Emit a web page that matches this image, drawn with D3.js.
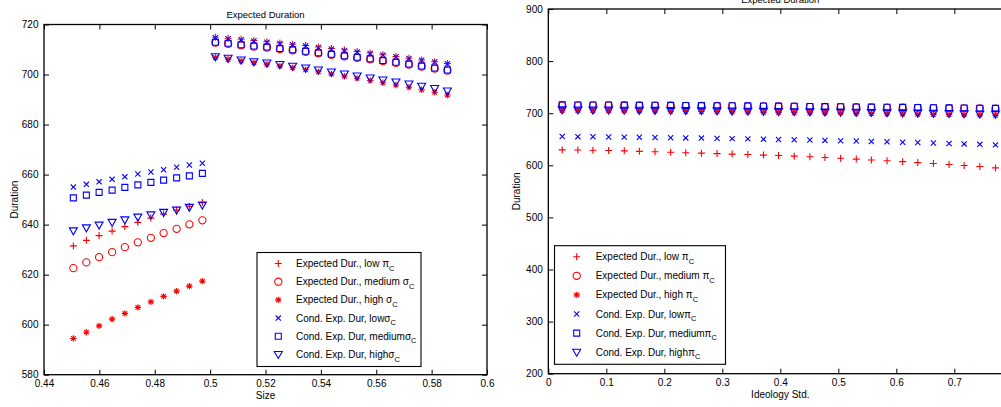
<!DOCTYPE html>
<html>
<head>
<meta charset="utf-8">
<script src="https://cdn.jsdelivr.net/npm/d3@7"></script>
<style>
  body { margin: 0; background: #fff; }
  svg { display: block; font-family: "Liberation Sans", Arial, sans-serif; }
</style>
</head>
<body>
<svg id="chart" width="1001" height="407"></svg>
<script>
// ---- data: left panel (x = Size) ----
var sizeX = [0.4506, 0.4553, 0.4599, 0.4646, 0.4692, 0.4739, 0.4786, 0.4832, 0.4879, 0.4925,
  0.4972, 0.5019, 0.5065, 0.5112, 0.5158, 0.5205, 0.5252, 0.5298, 0.5345, 0.5391,
  0.5438, 0.5485, 0.5531, 0.5578, 0.5624, 0.5671, 0.5718, 0.5764, 0.5811, 0.5857]

var sizeExpLow = [631.5, 633.7, 635.6, 637.4, 639.2, 640.9, 642.6, 644.2, 645.8, 647.3, 648.8,
  714.9, 714.5, 714.1, 713.6, 713.1, 712.6, 712.1, 711.6, 711.0, 710.4, 709.8, 709.2, 708.6, 707.9, 707.2, 706.5, 705.8, 705.1, 704.4]
var sizeExpMed = [622.6, 624.9, 627.0, 629.0, 631.0, 632.9, 634.7, 636.6, 638.3, 640.1, 641.7,
  712.8, 712.3, 711.7, 711.2, 710.8, 710.2, 709.7, 709.1, 708.5, 707.9, 707.3, 706.7, 706.1, 705.4, 704.7, 704.0, 703.2, 702.4, 701.6]
var sizeExpHigh = [594.5, 597.0, 599.5, 602.2, 604.5, 606.9, 609.1, 611.3, 613.4, 615.4, 617.4,
  706.8, 706.1, 705.4, 704.7, 704.1, 703.4, 702.7, 701.9, 701.1, 700.2, 699.3, 698.5, 697.6, 696.7, 695.8, 694.9, 693.9, 692.9, 691.8]
var sizeCondLow = [655.0, 656.1, 657.1, 658.1, 659.1, 660.2, 661.0, 661.9, 662.9, 663.8, 664.5,
  714.7, 714.3, 713.9, 713.4, 712.9, 712.4, 711.9, 711.4, 710.8, 710.2, 709.6, 709.0, 708.4, 707.8, 707.1, 706.4, 705.7, 705.0, 704.3]
var sizeCondMed = [650.7, 651.8, 652.9, 653.8, 654.9, 655.9, 656.9, 657.8, 658.7, 659.5, 660.5,
  712.9, 712.5, 711.9, 711.4, 711.0, 710.4, 709.9, 709.3, 708.7, 708.1, 707.5, 706.9, 706.3, 705.6, 704.9, 704.2, 703.4, 702.6, 701.8]
var sizeCondHigh = [637.5, 638.7, 639.8, 640.9, 641.9, 643.0, 643.9, 644.9, 645.8, 646.9, 647.8,
  707.1, 706.5, 705.8, 705.1, 704.6, 704.0, 703.3, 702.6, 701.8, 701.0, 700.2, 699.4, 698.6, 697.8, 697.0, 696.2, 695.3, 694.4, 693.4]

// ---- data: right panel (x = Ideology Std.) ----
var stdX = [0.024, 0.051, 0.077, 0.104, 0.131, 0.157, 0.184, 0.211, 0.237, 0.264,
  0.291, 0.317, 0.344, 0.371, 0.397, 0.424, 0.451, 0.477, 0.504, 0.531,
  0.557, 0.584, 0.611, 0.637, 0.664, 0.691, 0.717, 0.744, 0.771]

var stdExpLow = [629.6, 629.4, 628.9, 628.3, 627.7, 626.8, 626.0, 625.1, 624.2, 623.3,
  622.5, 621.5, 620.6, 619.6, 618.7, 617.6, 616.3, 614.9, 613.4, 611.9,
  610.3, 608.7, 607.0, 605.2, 603.4, 601.5, 599.6, 597.6, 595.0]
var stdExpMed = [715.3, 715.2, 715.1, 715.0, 714.9, 714.8, 714.6, 714.4, 714.2, 714.0,
  713.8, 713.6, 713.4, 713.2, 712.9, 712.6, 712.3, 712.0, 711.7, 711.4,
  711.1, 710.8, 710.5, 710.2, 709.9, 709.6, 709.3, 709.0, 708.7]
var stdExpHigh = [705.0, 704.9, 704.8, 704.7, 704.5, 704.3, 704.1, 703.8, 703.6, 703.3,
  703.0, 702.6, 702.3, 701.9, 701.6, 701.2, 700.8, 700.5, 700.1, 699.7,
  699.3, 698.9, 698.5, 698.0, 697.6, 697.2, 696.8, 696.4, 696.0]
var stdCondLow = [655.2, 655.0, 654.7, 654.4, 654.1, 653.8, 653.4, 653.0, 652.6, 652.2,
  651.7, 651.2, 650.7, 650.2, 649.6, 649.0, 648.4, 647.8, 647.2, 646.5,
  645.8, 645.1, 644.4, 643.6, 642.8, 642.0, 641.1, 640.2, 639.2]
var stdCondMed = [715.9, 715.8, 715.7, 715.6, 715.5, 715.4, 715.2, 715.0, 714.8, 714.6,
  714.4, 714.2, 714.0, 713.8, 713.5, 713.2, 712.9, 712.6, 712.3, 712.0,
  711.7, 711.4, 711.1, 710.8, 710.5, 710.2, 709.9, 709.6, 709.3]
var stdCondHigh = [706.3, 706.2, 706.1, 706.0, 705.8, 705.6, 705.4, 705.2, 705.0, 704.7,
  704.4, 704.1, 703.8, 703.5, 703.2, 702.9, 702.6, 702.3, 702.0, 701.7,
  701.4, 701.0, 700.6, 700.2, 699.8, 699.4, 699.0, 698.6, 698.2]

// ---- ticks and labels ----
var sizeTicks = [0.44, 0.46, 0.48, 0.5, 0.52, 0.54, 0.56, 0.58, 0.6]
var sizeDurTicks = [580, 600, 620, 640, 660, 680, 700, 720]
var stdTicks = [0, 0.1, 0.2, 0.3, 0.4, 0.5, 0.6, 0.7]
var stdDurTicks = [200, 300, 400, 500, 600, 700, 800, 900]

var markerTypes = ['plus', 'circle', 'star', 'cross', 'square', 'triangle']
var markerColors = ['#ff0000', '#ff0000', '#ff0000', '#0000ff', '#0000ff', '#0000ff']

var legendSize = ['Expected Dur., low \u03c0', 'Expected Dur., medium \u03c3', 'Expected Dur., high \u03c3',
  'Cond. Exp. Dur, low\u03c3', 'Cond. Exp. Dur, medium\u03c3', 'Cond. Exp. Dur, high\u03c3']
var legendStd = ['Expected Dur., low \u03c0', 'Expected Dur., medium \u03c0', 'Expected Dur., high \u03c0',
  'Cond. Exp. Dur, low\u03c0', 'Cond. Exp. Dur, medium\u03c0', 'Cond. Exp. Dur, high\u03c0']

var svg = d3.select('#chart')

// matlab-ish marker shapes
function markerPath(type) {
  if (type === 'plus') return 'M-3.5,0H3.5M0,-3.5V3.5'
  if (type === 'cross') return 'M-2.6,-2.6L2.6,2.6M-2.6,2.6L2.6,-2.6'
  if (type === 'star') return 'M-3.2,0H3.2M0,-3.2V3.2M-2.3,-2.3L2.3,2.3M-2.3,2.3L2.3,-2.3'
  if (type === 'square') return 'M-3,-3H3V3H-3Z'
  if (type === 'triangle') return 'M-4,-3H4L0,4Z'
  return 'M3.6,0A3.6,3.6 0 1,1 -3.6,0A3.6,3.6 0 1,1 3.6,0Z'
}

function drawMarker(g, type, color, x, y) {
  g.append('path')
    .attr('transform', 'translate(' + x + ',' + y + ')')
    .attr('d', markerPath(type))
    .attr('fill', 'none')
    .attr('stroke', color)
    .attr('stroke-width', 1.1)
}

function drawPanel(p) {
  var xScale = d3.scaleLinear().domain(p.xDomain).range([p.left, p.right])
  var yScale = d3.scaleLinear().domain(p.yDomain).range([p.bottom, p.top])
  var g = svg.append('g')

  // points, in plotting order
  p.series.forEach(function(s, i) {
    var sg = g.append('g')
    s.forEach(function(v, j) {
      drawMarker(sg, markerTypes[i], markerColors[i], xScale(p.xs[j]), yScale(v))
    })
  })

  // axes with inward ticks
  var fmt = function(d) { return String(+d.toFixed(2)) }
  g.append('g')
    .attr('transform', 'translate(0,' + p.bottom + ')')
    .call(d3.axisBottom(xScale).tickValues(p.xTicks).tickSize(-5).tickSizeOuter(0).tickPadding(5).tickFormat(fmt))
  g.append('g')
    .attr('transform', 'translate(0,' + p.top + ')')
    .call(d3.axisTop(xScale).tickValues(p.xTicks).tickSize(-5).tickSizeOuter(0).tickFormat(''))
  g.append('g')
    .attr('transform', 'translate(' + p.left + ',0)')
    .call(d3.axisLeft(yScale).tickValues(p.yTicks).tickSize(-5).tickSizeOuter(0).tickPadding(5.5).tickFormat(fmt))
  g.append('g')
    .attr('transform', 'translate(' + p.right + ',0)')
    .call(d3.axisRight(yScale).tickValues(p.yTicks).tickSize(-5).tickSizeOuter(0).tickFormat(''))

  g.selectAll('.domain').remove()
  g.selectAll('.tick line').attr('stroke', '#000').attr('stroke-width', 1)
  g.selectAll('.tick text').attr('font-size', 10).attr('fill', '#000')
    .attr('font-family', '"Liberation Sans", Arial, sans-serif')

  g.append('rect')
    .attr('x', p.left).attr('y', p.top)
    .attr('width', p.right - p.left).attr('height', p.bottom - p.top)
    .attr('fill', 'none').attr('stroke', '#000').attr('stroke-width', 1.3)

  // titles
  var cx = (p.left + p.right) / 2
  g.append('text').attr('x', cx).attr('y', p.top - 6.5)
    .attr('text-anchor', 'middle').attr('font-size', 9.5).text('Expected Duration')
  g.append('text').attr('x', cx).attr('y', p.xLabelY)
    .attr('text-anchor', 'middle').attr('font-size', 10).text(p.xLabel)
  g.append('text')
    .attr('transform', 'translate(' + p.yLabelX + ',' + (p.top + p.bottom) / 2 + ') rotate(-90)')
    .attr('text-anchor', 'middle').attr('font-size', 10).text('Duration')

  // legend
  var lg = p.legend
  g.append('rect')
    .attr('x', lg.x).attr('y', lg.y).attr('width', lg.w).attr('height', lg.h)
    .attr('fill', '#fff').attr('stroke', '#000').attr('stroke-width', 1.1)
  lg.labels.forEach(function(label, i) {
    var ry = lg.y + lg.first + i * lg.step
    drawMarker(g, markerTypes[i], markerColors[i], lg.markerX, ry)
    var t = g.append('text').attr('x', lg.textX).attr('y', ry + 3.5).attr('font-size', 10)
    t.append('tspan').text(label)
    t.append('tspan').attr('dy', 3.5).attr('font-size', 7.5).text('C')
  })
}

drawPanel({
  left: 44, right: 487, top: 24.5, bottom: 374.7,
  xDomain: [0.44, 0.6], yDomain: [580, 720],
  xTicks: sizeTicks, yTicks: sizeDurTicks,
  xs: sizeX,
  series: [sizeExpLow, sizeExpMed, sizeExpHigh, sizeCondLow, sizeCondMed, sizeCondHigh],
  xLabel: 'Size', xLabelY: 399, yLabelX: 18,
  legend: { x: 257, y: 252.5, w: 164, h: 114, markerX: 278.3, textX: 296, first: 11, step: 18.2, labels: legendSize }
})

drawPanel({
  left: 548.3, right: 1012.3, top: 9, bottom: 373.7,
  xDomain: [0, 0.8], yDomain: [200, 900],
  xTicks: stdTicks, yTicks: stdDurTicks,
  xs: stdX,
  series: [stdExpLow, stdExpMed, stdExpHigh, stdCondLow, stdCondMed, stdCondHigh],
  xLabel: 'Ideology Std.', xLabelY: 398, yLabelX: 520,
  legend: { x: 554.5, y: 245.7, w: 171, h: 118.6, markerX: 576.7, textX: 595.7, first: 11, step: 19.1, labels: legendStd }
})
</script>
</body>
</html>
